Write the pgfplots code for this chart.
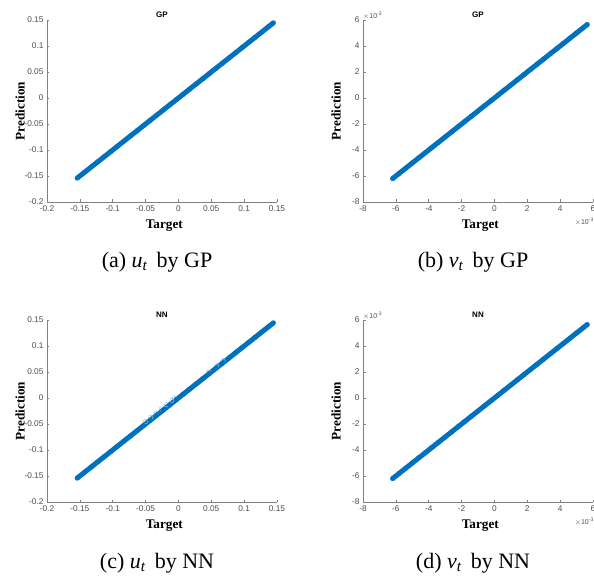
\documentclass[border=0pt]{standalone}
\usepackage{fontspec}
\setmainfont{Liberation Serif}
\setsansfont{Liberation Sans}
\usepackage{pgfplots}
\usepackage{pgfplotstable}
\pgfplotsset{compat=1.18}
\definecolor{mblue}{rgb}{0,0.447,0.741}

\pgfplotstableread{
x y
-0.154 -0.154
-0.143 -0.143
-0.133 -0.133
-0.123 -0.123
-0.113 -0.113
-0.103 -0.103
-0.093 -0.093
-0.083 -0.083
-0.073 -0.073
-0.063 -0.063
-0.053 -0.053
-0.043 -0.043
-0.033 -0.033
-0.023 -0.023
-0.013 -0.013
-0.003 -0.003
0.007 0.007
0.017 0.017
0.027 0.027
0.037 0.037
0.047 0.047
0.057 0.057
0.067 0.067
0.077 0.077
0.087 0.087
0.097 0.097
0.107 0.107
0.117 0.117
0.127 0.127
0.137 0.137
0.1445 0.1445
}\udata

\pgfplotstableread{
x y
-6.2 -6.2
-5.8 -5.8
-5.4 -5.4
-5.0 -5.0
-4.6 -4.6
-4.2 -4.2
-3.8 -3.8
-3.4 -3.4
-3.0 -3.0
-2.6 -2.6
-2.2 -2.2
-1.8 -1.8
-1.4 -1.4
-1.0 -1.0
-0.6 -0.6
-0.2 -0.2
0.2 0.2
0.6 0.6
1.0 1.0
1.4 1.4
1.8 1.8
2.2 2.2
2.6 2.6
3.0 3.0
3.4 3.4
3.8 3.8
4.2 4.2
4.6 4.6
5.0 5.0
5.4 5.4
5.65 5.65
}\vdata

\pgfplotsset{
  base/.style={
    scale only axis, width=230pt, height=182pt,
    anchor=south west,
    axis x line*=bottom, axis y line*=left,
    axis line style={black!50, line width=0.5pt, -},
    tick style={black!50, line width=0.5pt},
    major tick length=2.5pt,
    tick align=inside,
    tick label style={font=\sffamily\fontsize{8.3}{9}\selectfont, text=black!70},
    xlabel={Target}, ylabel={Prediction},
    every axis x label/.style={at={(axis description cs:0.51,-0.132)}, anchor=center, font=\fontsize{13.2}{14}\selectfont\bfseries},
    every axis y label/.style={at={(axis description cs:-0.117,0.5)}, anchor=center, rotate=90, font=\fontsize{13.2}{14}\selectfont\bfseries},
    every axis title/.style={at={(axis description cs:0.5,1.027)}, anchor=center, font=\sffamily\bfseries\fontsize{8}{9}\selectfont},
    clip=false,
  },
  ustyle/.style={base,
    xmin=-0.2, xmax=0.15, ymin=-0.2, ymax=0.15,
    xtick={-0.2,-0.15,-0.1,-0.05,0,0.05,0.1,0.15},
    xticklabels={-0.2,-0.15,-0.1,-0.05,0,0.05,0.1,0.15},
    ytick={-0.2,-0.15,-0.1,-0.05,0,0.05,0.1,0.15},
    yticklabels={-0.2,-0.15,-0.1,-0.05,0,0.05,0.1,0.15},
  },
  vstyle/.style={base,
    xmin=-8, xmax=6, ymin=-8, ymax=6,
    xtick={-8,-6,-4,-2,0,2,4,6},
    xticklabels={-8,-6,-4,-2,0,2,4,6},
    ytick={-8,-6,-4,-2,0,2,4,6},
    yticklabels={-8,-6,-4,-2,0,2,4,6},
  },
  pts/.style={mblue, line width=5pt, mark=*, mark size=2.4pt, mark options={solid, fill=mblue, draw=mblue, line width=0.2pt}},
}

\newcommand{\expo}{\sffamily\fontsize{7}{8}\selectfont\color{black!70}$\times$10\textsuperscript{-3}}

\begin{document}
\begin{tikzpicture}[x=1pt,y=1pt]
\useasboundingbox (0,0) rectangle (594,576);

% (a)
\begin{axis}[ustyle, at={(47pt,374pt)}, title={GP}]
\addplot[pts] table {\udata};
\end{axis}

% (b)
\begin{axis}[vstyle, at={(363pt,374pt)}, title={GP}]
\addplot[pts] table {\vdata};
\node[anchor=south west, inner sep=0pt] at (axis description cs:0,1.005) {\expo};
\node[anchor=west, inner sep=0pt] at (axis description cs:0.92,-0.11) {\expo};
\end{axis}

% (c)
\begin{axis}[ustyle, at={(47pt,74pt)}, title={NN}]
\addplot[only marks, mark=o, mark size=2.2pt, mblue!45, line width=0.5pt] coordinates {
(-0.050,-0.045) (-0.042,-0.037) (-0.034,-0.029) (-0.026,-0.021) (-0.018,-0.013) (-0.010,-0.005) (-0.006,0.000) (0.046,0.050) (0.058,0.062) (0.068,0.072)
};
\addplot[pts] table {\udata};
\end{axis}

% (d)
\begin{axis}[vstyle, at={(363pt,74pt)}, title={NN}]
\addplot[pts] table {\vdata};
\node[anchor=south west, inner sep=0pt] at (axis description cs:0,1.005) {\expo};
\node[anchor=west, inner sep=0pt] at (axis description cs:0.92,-0.11) {\expo};
\end{axis}

\node[font=\fontsize{22}{24}\selectfont] at (157,314) {(a) $\mathit{u}_{\mathit{t}}$\, by GP};
\node[font=\fontsize{22}{24}\selectfont] at (473,314) {(b) $\mathit{v}_{\mathit{t}}$\, by GP};
\node[font=\fontsize{22}{24}\selectfont] at (157,13) {(c) $\mathit{u}_{\mathit{t}}$\, by NN};
\node[font=\fontsize{22}{24}\selectfont] at (473,13) {(d) $\mathit{v}_{\mathit{t}}$\, by NN};
\end{tikzpicture}
\end{document}
